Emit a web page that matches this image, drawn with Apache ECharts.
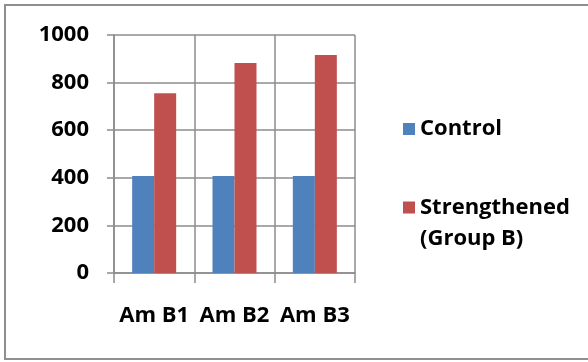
<!DOCTYPE html>
<html>
<head>
<meta charset="utf-8">
<script src="https://cdn.jsdelivr.net/npm/echarts@6/dist/echarts.min.js"></script>
<style>
  html, body { margin: 0; padding: 0; background: #ffffff; }
  #chart { width: 588px; height: 362px; }
</style>
</head>
<body>
<div id="chart"></div>
<script>
// Beam groups along the x axis
const categories = ['Am B1', 'Am B2', 'Am B3'];
// Series values (load)
const controlValues = [408, 408, 408];
const strengthenedValues = [755, 882, 916];
// Value axis range
const yMin = 0;
const yMax = 1000;
const yStep = 200;

const FONT = '"Open Sans", "Noto Sans", sans-serif';
const BLUE = '#4F81BD';
const RED = '#C0504D';
const GRID = '#8c8c8c';

// Square swatch pinned to the top of a taller box, so that it sits beside
// the first line of a two-line legend label.
const TOP_SQUARE_ICON = 'path://M0,0H12V12H0Z M0,43H12';

const chart = echarts.init(document.getElementById('chart'), null, { renderer: 'canvas' });

chart.setOption({
  animation: false,
  backgroundColor: '#ffffff',
  grid: { left: 114, top: 35, right: 233, bottom: 89, containLabel: false },
  graphic: [
    {
      type: 'rect',
      shape: { x: 5, y: 5, width: 600, height: 354 },
      style: { fill: 'none', stroke: '#8f8f8f', lineWidth: 2 },
      silent: true
    }
  ],
  legend: [
    {
      data: ['Control'],
      left: 398,
      top: 112,
      orient: 'vertical',
      icon: 'rect',
      itemWidth: 12,
      itemHeight: 12,
      textStyle: { fontFamily: FONT, fontSize: 22, fontWeight: 'bold', color: '#000', lineHeight: 24 }
    },
    {
      data: ['Strengthened\n(Group B)'],
      left: 398,
      top: 187,
      orient: 'vertical',
      icon: TOP_SQUARE_ICON,
      itemWidth: 12,
      itemHeight: 43,
      textStyle: { fontFamily: FONT, fontSize: 22, fontWeight: 'bold', color: '#000', lineHeight: 31 }
    }
  ],
  xAxis: {
    type: 'category',
    data: categories,
    boundaryGap: true,
    axisLine: { show: true, lineStyle: { color: GRID, width: 1.5 } },
    axisTick: { show: true, length: 10, lineStyle: { color: GRID, width: 1.5 } },
    splitLine: { show: true, lineStyle: { color: GRID, width: 1.5 } },
    axisLabel: { fontFamily: FONT, fontSize: 22, fontWeight: 'bold', color: '#000', margin: 32, interval: 0 }
  },
  yAxis: {
    type: 'value',
    min: yMin,
    max: yMax,
    interval: yStep,
    axisLine: { show: true, lineStyle: { color: GRID, width: 1.5 } },
    axisTick: { show: true, length: 7, lineStyle: { color: GRID, width: 1.5 } },
    splitLine: { show: true, lineStyle: { color: GRID, width: 1.5 } },
    axisLabel: {
      fontFamily: FONT, fontSize: 22, fontWeight: 'bold', color: '#000', margin: 25,
      formatter: (v) => String(v)
    }
  },
  series: [
    {
      name: 'Control',
      type: 'bar',
      data: controlValues,
      barWidth: 22,
      barGap: '0%',
      itemStyle: { color: BLUE }
    },
    {
      name: 'Strengthened\n(Group B)',
      type: 'bar',
      data: strengthenedValues,
      barWidth: 22,
      barGap: '0%',
      itemStyle: { color: RED }
    }
  ]
});
</script>
</body>
</html>
